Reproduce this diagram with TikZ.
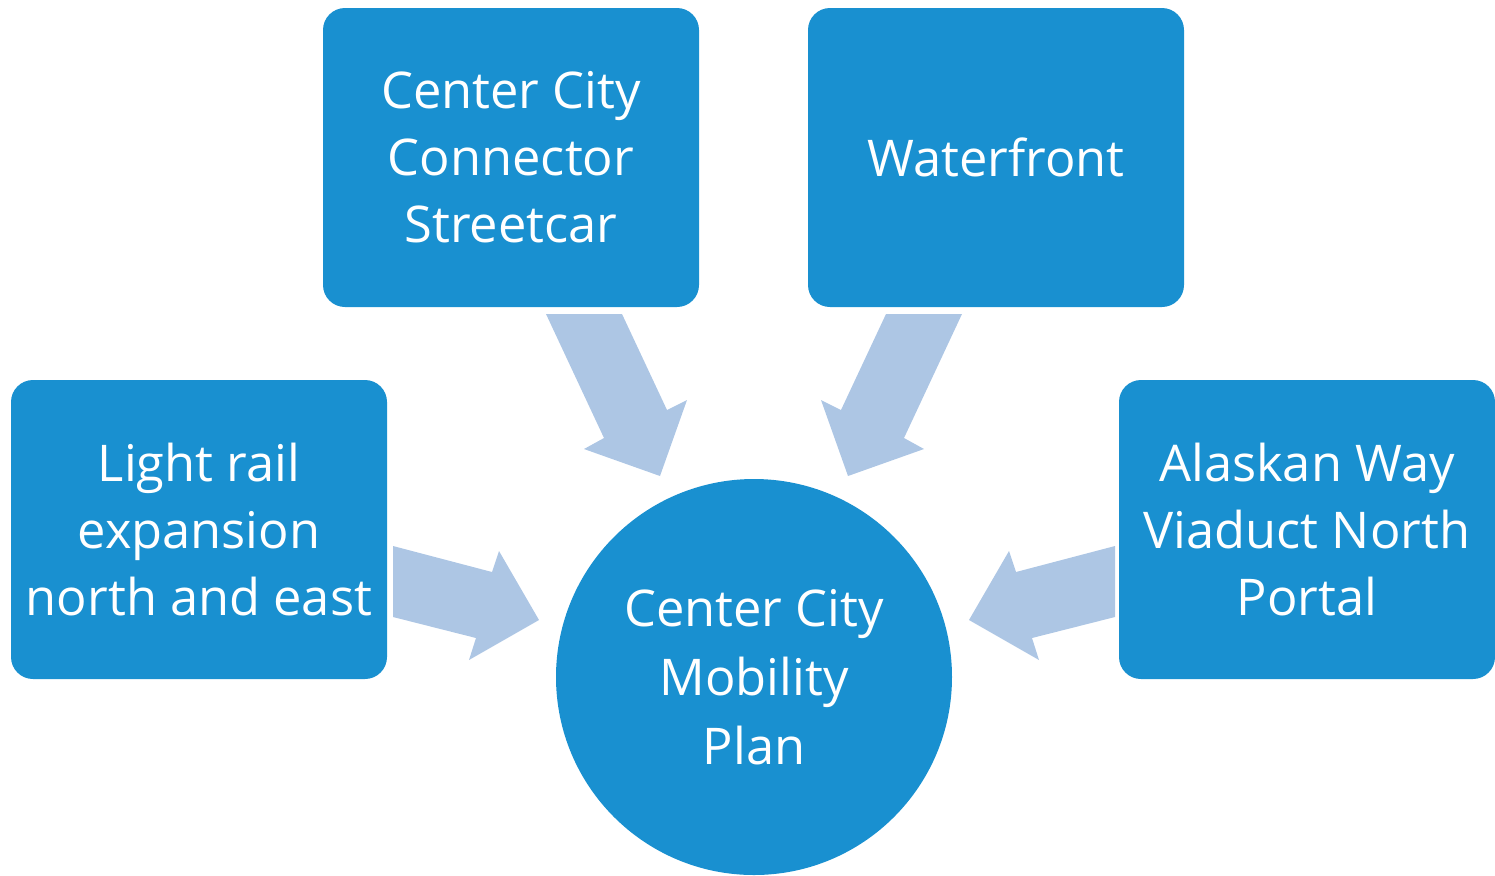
\documentclass[tikz,border=0pt]{standalone}
\usepackage{fontspec}
\setmainfont{Open Sans}
\definecolor{boxblue}{HTML}{1990D0}
\definecolor{arrowblue}{HTML}{ADC6E4}
\begin{document}
\begin{tikzpicture}[x=0.5pt,y=-0.5pt,
  box/.style={fill=boxblue, draw=none, rounded corners=11pt, minimum width=188pt, minimum height=149.5pt,
    text=white, align=center, font=\fontsize{25.3}{33.5}\selectfont, inner sep=0pt},
  hub/.style={circle, fill=boxblue, draw=none, minimum size=198pt, text=white, align=center,
    font=\fontsize{25.3}{34.5}\selectfont, inner sep=0pt},
  blockarrow/.style={fill=arrowblue, draw=none}]
\useasboundingbox (0,0) rectangle (1495,875);
\node[box] (ccc) at (511,157.5) {Center City\\Connector\\Streetcar};
\node[box] (wf) at (996,157.5) {Waterfront};
\node[box] (lr) at (199,529.5) {Light rail\\expansion\\north and east};
\node[box] (aw) at (1307,529.5) {Alaskan Way\\Viaduct North\\Portal};
\node[hub] (hub) at (754,677) {Center City\\Mobility\\Plan};
% block arrows
\fill[blockarrow] (393,546) -- (492,572) -- (499,551) -- (539,620) -- (469,660) -- (476,638) -- (393,617) -- cycle;
\fill[blockarrow] (1115,546) -- (1016,572) -- (1009,551) -- (969,620) -- (1039,660) -- (1032,638) -- (1115,617) -- cycle;
\fill[blockarrow] (546,314) -- (622,314) -- (667,410) -- (687,400) -- (660,476) -- (584,449) -- (604,438) -- cycle;
\fill[blockarrow] (962,314) -- (886,314) -- (841,410) -- (821,400) -- (848,476) -- (924,449) -- (904,438) -- cycle;
\end{tikzpicture}
\end{document}
